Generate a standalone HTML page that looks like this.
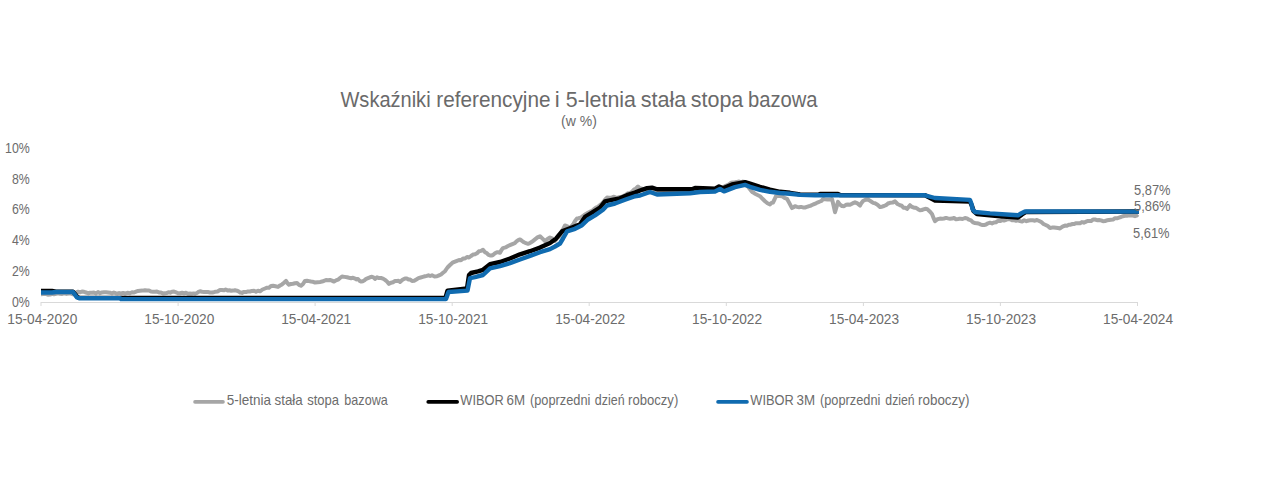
<!DOCTYPE html>
<html><head><meta charset="utf-8">
<style>
html,body{margin:0;padding:0;background:#fff;}
body{width:1280px;height:483px;overflow:hidden;}
svg{display:block;}
text{font-family:"Liberation Sans",sans-serif;fill:#6c6c6c;}
.ax{font-size:13.8px;}
.xl{font-size:15px;}
.ti{font-size:21.6px;fill:#6a6a6a;}
.sub{font-size:14px;}
.lg{font-size:14.6px;}
.el{font-size:14.2px;}
</style></head><body>
<svg width="1280" height="483" viewBox="0 0 1280 483">
<rect width="1280" height="483" fill="#fff"/>
<text x="340.48" y="107" class="ti" textLength="90.12" lengthAdjust="spacingAndGlyphs">Wskaźniki</text><text x="436.32" y="107" class="ti" textLength="114.16" lengthAdjust="spacingAndGlyphs">referencyjne</text><text x="554.82" y="107" class="ti" textLength="4.96" lengthAdjust="spacingAndGlyphs">i</text><text x="565.82" y="107" class="ti" textLength="70.16" lengthAdjust="spacingAndGlyphs">5-letnia</text><text x="640.66" y="107" class="ti" textLength="45.64" lengthAdjust="spacingAndGlyphs">stała</text><text x="690.80" y="107" class="ti" textLength="52.52" lengthAdjust="spacingAndGlyphs">stopa</text><text x="747.98" y="107" class="ti" textLength="69.64" lengthAdjust="spacingAndGlyphs">bazowa</text>
<text x="579" y="126" text-anchor="middle" class="sub">(w %)</text>
<text x="29.8" y="306.9" text-anchor="end" class="ax" textLength="17.8" lengthAdjust="spacingAndGlyphs">0%</text>
<text x="29.8" y="276.1" text-anchor="end" class="ax" textLength="17.8" lengthAdjust="spacingAndGlyphs">2%</text>
<text x="29.8" y="245.2" text-anchor="end" class="ax" textLength="17.8" lengthAdjust="spacingAndGlyphs">4%</text>
<text x="29.8" y="214.4" text-anchor="end" class="ax" textLength="17.8" lengthAdjust="spacingAndGlyphs">6%</text>
<text x="29.8" y="183.5" text-anchor="end" class="ax" textLength="17.8" lengthAdjust="spacingAndGlyphs">8%</text>
<text x="29.8" y="152.7" text-anchor="end" class="ax" textLength="24.8" lengthAdjust="spacingAndGlyphs">10%</text>

<line x1="41" y1="302.5" x2="1137.5" y2="302.5" stroke="#d9d9d9" stroke-width="1"/>
<line x1="41.0" y1="302" x2="41.0" y2="306" stroke="#d9d9d9" stroke-width="1"/>
<line x1="178.1" y1="302" x2="178.1" y2="306" stroke="#d9d9d9" stroke-width="1"/>
<line x1="315.1" y1="302" x2="315.1" y2="306" stroke="#d9d9d9" stroke-width="1"/>
<line x1="452.2" y1="302" x2="452.2" y2="306" stroke="#d9d9d9" stroke-width="1"/>
<line x1="589.2" y1="302" x2="589.2" y2="306" stroke="#d9d9d9" stroke-width="1"/>
<line x1="726.3" y1="302" x2="726.3" y2="306" stroke="#d9d9d9" stroke-width="1"/>
<line x1="863.4" y1="302" x2="863.4" y2="306" stroke="#d9d9d9" stroke-width="1"/>
<line x1="1000.4" y1="302" x2="1000.4" y2="306" stroke="#d9d9d9" stroke-width="1"/>
<line x1="1137.5" y1="302" x2="1137.5" y2="306" stroke="#d9d9d9" stroke-width="1"/>

<text x="42.3" y="323.6" text-anchor="middle" class="xl" textLength="70" lengthAdjust="spacingAndGlyphs">15-04-2020</text>
<text x="179.3" y="323.6" text-anchor="middle" class="xl" textLength="70" lengthAdjust="spacingAndGlyphs">15-10-2020</text>
<text x="316.2" y="323.6" text-anchor="middle" class="xl" textLength="70" lengthAdjust="spacingAndGlyphs">15-04-2021</text>
<text x="453.2" y="323.6" text-anchor="middle" class="xl" textLength="70" lengthAdjust="spacingAndGlyphs">15-10-2021</text>
<text x="590.2" y="323.6" text-anchor="middle" class="xl" textLength="70" lengthAdjust="spacingAndGlyphs">15-04-2022</text>
<text x="727.1" y="323.6" text-anchor="middle" class="xl" textLength="70" lengthAdjust="spacingAndGlyphs">15-10-2022</text>
<text x="864.1" y="323.6" text-anchor="middle" class="xl" textLength="70" lengthAdjust="spacingAndGlyphs">15-04-2023</text>
<text x="1001.1" y="323.6" text-anchor="middle" class="xl" textLength="70" lengthAdjust="spacingAndGlyphs">15-10-2023</text>
<text x="1138.1" y="323.6" text-anchor="middle" class="xl" textLength="70" lengthAdjust="spacingAndGlyphs">15-04-2024</text>

<polyline points="41.0,294.2 43.2,294.1 45.5,293.9 47.8,294.7 50.0,294.6 52.0,293.8 54.0,294.3 56.0,293.9 58.0,293.3 60.0,293.8 62.2,293.9 64.3,293.3 66.5,293.9 68.7,293.5 70.8,293.6 73.0,294.2 75.5,292.8 78.0,291.7 80.0,292.3 82.0,291.5 84.0,291.8 86.0,292.5 88.0,293.2 90.0,292.7 92.0,292.8 94.0,292.6 96.0,293.4 98.0,292.1 100.0,293.2 102.0,292.4 104.0,292.2 106.0,292.2 108.0,292.4 110.0,292.7 111.9,293.3 113.8,292.5 115.6,293.2 117.5,293.4 119.4,293.1 121.2,293.5 123.1,293.0 125.0,293.7 127.5,292.8 130.0,293.2 132.0,292.3 134.0,292.5 136.0,291.6 138.0,290.9 140.0,290.7 142.5,290.6 145.0,290.2 147.0,290.4 149.0,290.5 151.0,291.5 153.0,291.7 155.0,291.7 157.0,291.6 159.0,292.4 161.0,292.6 163.0,293.4 165.0,293.2 166.8,293.1 168.5,292.2 170.2,292.7 172.0,291.7 174.0,291.5 176.0,292.3 178.0,293.2 180.0,293.2 182.0,292.8 184.0,293.3 186.0,292.7 188.0,293.7 190.0,293.5 191.8,293.7 193.5,293.4 195.2,293.7 197.0,293.0 198.5,291.9 200.0,291.3 202.0,291.8 204.0,291.9 206.0,292.1 208.0,292.1 210.0,292.4 212.5,292.6 215.0,291.8 217.5,291.5 220.0,290.0 221.9,290.0 223.8,290.3 225.6,289.5 227.5,290.4 229.4,290.3 231.2,290.8 233.1,290.6 235.0,290.2 236.8,290.6 238.5,291.4 240.2,292.5 242.0,292.9 244.0,291.9 246.0,292.1 248.0,291.4 250.0,291.5 252.0,290.9 254.0,290.8 256.0,291.8 258.0,290.8 260.0,291.3 262.5,289.5 265.0,288.5 267.0,287.7 269.0,287.7 271.0,285.9 273.0,285.8 275.5,286.3 278.0,286.9 280.0,285.5 282.0,284.4 284.0,282.8 286.0,280.9 287.5,283.3 289.0,284.7 291.0,284.0 293.0,283.7 295.0,283.2 297.0,283.0 299.0,284.9 301.0,285.8 303.0,284.0 305.0,280.9 307.0,280.7 309.0,281.1 311.0,281.5 313.0,281.8 315.0,282.5 317.5,282.2 320.0,281.9 322.0,281.6 324.0,280.8 326.0,280.0 328.0,280.2 330.0,279.9 332.0,280.6 334.0,281.6 336.0,280.4 338.0,279.7 340.0,278.0 342.0,276.5 344.5,276.9 347.0,277.3 349.0,277.8 351.0,278.2 353.0,277.7 355.0,278.6 356.5,279.4 358.0,279.0 359.5,280.7 361.0,281.6 362.8,281.2 364.5,280.3 366.2,278.8 368.0,278.1 370.0,277.3 372.0,276.8 373.5,277.3 375.0,278.9 377.0,277.3 379.0,278.1 381.0,278.0 383.0,278.6 385.0,279.9 387.0,281.5 389.0,283.9 391.0,282.7 393.0,282.2 395.0,281.0 397.0,280.9 398.5,280.7 400.0,281.9 402.5,279.7 405.0,278.4 406.8,278.5 408.5,279.5 410.2,279.6 412.0,280.9 414.2,280.7 416.3,279.5 418.5,278.1 420.7,277.5 422.8,276.9 425.0,276.3 426.8,275.9 428.5,275.3 430.2,276.0 432.0,275.3 434.5,276.5 437.0,276.3 439.0,275.4 441.0,274.5 443.0,272.8 445.0,271.2 447.5,267.5 450.0,265.0 452.5,262.7 455.0,261.6 457.0,260.8 459.0,260.0 461.0,260.2 463.0,258.6 465.0,258.5 467.0,257.0 469.0,257.5 471.0,256.0 473.0,254.6 475.0,254.3 477.0,253.2 479.0,251.3 481.0,250.9 483.0,249.7 485.0,252.2 487.0,253.3 488.5,254.9 490.0,255.4 491.5,255.5 493.0,255.0 495.0,253.3 497.0,252.2 498.5,252.3 500.0,252.8 501.5,250.0 503.0,248.1 505.5,247.4 508.0,246.0 510.5,244.9 513.0,243.8 514.8,243.1 516.5,241.3 518.2,240.1 520.0,239.4 522.0,240.9 524.0,242.3 526.0,243.2 528.0,243.8 529.8,243.1 531.5,242.0 533.2,240.8 535.0,239.4 537.5,237.4 540.0,236.2 542.5,238.6 545.0,241.0 547.5,239.0 550.0,237.5 552.5,238.6 555.0,241.0 557.5,237.8 560.0,236.0 562.5,230.4 565.0,225.5 567.5,226.4 570.0,228.0 571.8,225.9 573.5,223.8 575.2,220.7 577.0,218.4 578.8,218.2 580.5,217.5 582.2,216.7 584.0,215.3 586.0,214.0 588.0,212.8 590.0,211.7 592.0,211.0 594.0,209.1 596.0,207.6 598.0,206.7 600.0,205.0 601.8,203.7 603.5,201.8 605.2,199.4 607.0,197.6 609.2,197.7 611.3,197.8 613.5,196.7 615.7,197.4 617.8,197.7 620.0,197.0 622.0,196.6 624.0,195.8 626.0,194.6 628.0,193.3 630.0,193.0 632.0,191.8 634.0,189.5 636.0,188.5 638.0,186.5 639.8,188.2 641.5,188.4 643.2,189.4 645.0,190.5 646.9,191.2 648.8,190.9 650.6,190.2 652.5,190.2 654.4,190.3 656.2,191.4 658.1,191.4 660.0,191.0 662.0,190.5 664.0,191.5 666.0,191.7 668.0,191.2 670.0,190.8 672.0,191.1 674.0,190.5 676.0,190.3 678.0,191.7 680.0,191.2 682.0,191.0 684.0,191.6 686.0,190.9 688.0,191.5 690.0,191.5 692.0,190.6 694.0,190.7 696.0,190.7 698.0,190.6 700.0,191.0 701.9,191.1 703.8,190.5 705.6,190.7 707.5,190.2 709.4,191.3 711.2,190.4 713.1,190.5 715.0,190.5 717.0,189.7 719.0,189.3 721.0,187.7 723.0,187.5 725.0,186.1 727.0,185.2 729.0,184.3 731.0,182.7 733.0,182.5 735.0,182.3 737.0,181.9 739.0,181.6 741.0,182.6 743.0,181.6 745.0,182.0 746.8,184.4 748.5,187.3 750.2,189.5 752.0,191.9 753.5,192.6 755.0,193.8 757.5,195.0 760.0,196.2 762.5,198.8 765.0,201.2 767.5,203.2 770.0,204.4 771.5,202.9 773.0,202.5 774.5,199.5 776.0,196.2 778.0,195.9 780.0,195.9 782.0,196.2 784.5,197.9 787.0,198.8 789.5,203.4 792.0,208.1 793.5,207.3 795.0,206.2 797.0,206.9 799.0,207.3 801.0,206.9 803.0,207.4 805.0,207.5 806.8,206.9 808.5,206.3 810.2,205.9 812.0,205.0 814.0,204.1 816.0,203.3 818.0,202.3 820.0,201.5 821.5,200.9 823.0,199.0 825.2,199.3 827.5,199.5 829.8,199.6 832.0,199.0 833.5,205.3 835.0,212.2 836.5,207.1 838.0,201.9 840.0,204.6 842.0,206.0 844.0,206.2 846.0,204.8 848.0,204.5 850.0,204.7 852.5,203.4 855.0,202.3 857.5,203.4 860.0,205.6 861.5,202.9 863.0,201.0 865.5,199.7 868.0,199.5 869.8,200.7 871.5,201.8 873.2,202.9 875.0,203.3 877.5,204.7 880.0,207.0 882.0,206.7 884.0,206.0 886.0,205.2 888.0,203.5 890.0,202.8 892.5,202.6 895.0,201.4 897.5,204.0 900.0,205.2 901.8,205.7 903.5,207.7 905.2,207.8 907.0,208.9 908.5,207.0 910.0,205.2 912.0,206.9 914.0,207.7 916.0,207.8 918.0,209.2 920.0,210.3 921.8,210.0 923.5,209.4 925.2,208.8 927.0,208.9 929.5,211.2 932.0,214.0 933.5,217.9 935.0,221.1 937.5,219.2 940.0,218.6 942.0,218.7 944.0,218.5 946.0,217.9 948.0,218.4 950.0,218.8 952.0,218.6 954.0,218.0 956.0,219.3 958.0,219.0 960.0,218.6 962.5,219.0 965.0,218.0 967.0,218.4 969.0,219.7 971.0,220.4 973.0,222.4 975.0,223.0 976.8,223.2 978.5,223.4 980.2,224.3 982.0,224.9 984.0,225.1 986.0,224.5 988.0,223.3 990.0,222.7 992.0,223.4 994.0,222.5 996.0,222.2 998.0,220.9 1000.0,221.1 1002.0,220.1 1004.0,220.6 1006.0,219.9 1008.0,219.0 1010.0,219.2 1012.0,220.2 1014.0,220.2 1016.0,220.8 1018.0,220.1 1020.0,221.1 1022.1,221.5 1024.2,220.2 1026.4,221.2 1028.5,220.5 1030.6,220.2 1032.8,220.3 1034.9,220.7 1037.0,220.0 1039.2,221.0 1041.3,222.1 1043.5,224.0 1045.7,225.0 1047.8,226.1 1050.0,228.0 1052.0,227.6 1054.0,227.5 1056.0,227.8 1058.0,228.1 1060.0,228.4 1062.5,226.7 1065.0,225.6 1066.9,225.7 1068.8,224.7 1070.6,224.7 1072.5,224.0 1074.4,223.9 1076.2,223.2 1078.1,223.2 1080.0,223.3 1081.9,222.1 1083.8,222.7 1085.6,221.9 1087.5,221.0 1089.4,220.9 1091.2,221.1 1093.1,219.4 1095.0,219.5 1097.0,220.2 1099.0,220.0 1101.0,220.4 1103.0,221.2 1105.0,221.0 1107.0,220.3 1109.0,220.0 1111.0,219.7 1113.0,219.6 1115.0,218.2 1117.0,218.3 1119.0,217.6 1121.0,217.0 1123.0,216.2 1125.0,215.8 1127.0,215.7 1129.0,215.3 1131.0,215.5 1133.0,215.5 1135.0,216.2 1136.5,215.7 1138.0,214.5" fill="none" stroke="#a6a6a6" stroke-width="4" stroke-linejoin="round"/>
<polyline points="41,291 52,291 56,291.7 73,291.7 77,296.5 79,297.9 445.5,297.9 447.5,290.6 467,288.4 469,275 471,273 478,271.4 483,269.8 490,264.2 500,262 510,258.5 520,254.3 530,251.2 540,247.6 550,243 556,238.7 562,231.4 570,228.3 580,224.2 585,216.9 590,213.8 600,207.6 605,201.4 612,199.8 620,198.3 627,195.2 635,192.6 640,190.5 647,188.2 652,187.6 657,189.25 692,189.25 695,188 703,188.25 715,188.6 719,186.4 723,188.25 732,184.5 745,182.1 750,183.7 760,186.8 770,189.6 780,191.8 790,192.8 800,194.4 810,194.8 818,194.8 820,194 838,194 840,195 925,195.3 935,200.5 970,201.6 972,206 973.5,211 977,214 1000,216.2 1018,217.6 1022,214.5 1026,212 1139,211.5" fill="none" stroke="#000" stroke-width="4.4" stroke-linejoin="round"/>
<polyline points="41,292.5 52,292.5 56,292 73,292 77,297.5 79,298.2 120,298.2 121,299.1 446,299.1 448.5,292 467.5,290.6 470,278.1 475,277.1 483,275 490,268.3 500,266.2 510,263.1 520,259.5 530,255.9 540,252.2 550,249.1 555,246.5 560,243.5 563,238.5 567,231.4 575,228.8 582,225.2 588,219.5 595,215.4 603,209.7 607,205.5 615,203.5 625,199.8 635,196.2 640,195.5 650,192 657,194.5 690,193.3 700,192 715,191.5 720,189 724,191.4 735,187.1 745,184.9 750,186.8 760,189.9 770,191.8 780,193 790,193.7 800,194.9 815,195.2 820,195.3 838,195.3 840,195.4 925,195.3 935,198 970,199.9 971.5,204 972.5,209 975,212 990,213.4 1010,214.8 1018,215.3 1021,213.5 1025,211.5 1080,211.5 1139,211.6" fill="none" stroke="#106bb0" stroke-width="4.4" stroke-linejoin="round"/>
<text x="1134" y="195" class="el" textLength="36.5" lengthAdjust="spacingAndGlyphs">5,87%</text>
<text x="1134" y="211" class="el" textLength="36.5" lengthAdjust="spacingAndGlyphs">5,86%</text>
<text x="1133" y="238" class="el" textLength="36.5" lengthAdjust="spacingAndGlyphs">5,61%</text>
<line x1="195" y1="401.9" x2="223" y2="401.9" stroke="#a6a6a6" stroke-width="3.6" stroke-linecap="round"/>
<line x1="428.2" y1="401.9" x2="457.2" y2="401.9" stroke="#000" stroke-width="3.6" stroke-linecap="round"/>
<line x1="718" y1="401.9" x2="747" y2="401.9" stroke="#106bb0" stroke-width="3.6" stroke-linecap="round"/>
<text x="226.86" y="404.9" class="lg" textLength="44.24" lengthAdjust="spacingAndGlyphs">5-letnia</text><text x="274.52" y="404.9" class="lg" textLength="28.24" lengthAdjust="spacingAndGlyphs">stała</text><text x="307.16" y="404.9" class="lg" textLength="31.92" lengthAdjust="spacingAndGlyphs">stopa</text><text x="344.36" y="404.9" class="lg" textLength="43.40" lengthAdjust="spacingAndGlyphs">bazowa</text><text x="460.34" y="404.9" class="lg" textLength="43.44" lengthAdjust="spacingAndGlyphs">WIBOR</text><text x="506.52" y="404.9" class="lg" textLength="18.56" lengthAdjust="spacingAndGlyphs">6M</text><text x="530.00" y="404.9" class="lg" textLength="60.42" lengthAdjust="spacingAndGlyphs">(poprzedni</text><text x="594.86" y="404.9" class="lg" textLength="29.72" lengthAdjust="spacingAndGlyphs">dzień</text><text x="628.02" y="404.9" class="lg" textLength="50.24" lengthAdjust="spacingAndGlyphs">roboczy)</text><text x="750.34" y="404.9" class="lg" textLength="43.44" lengthAdjust="spacingAndGlyphs">WIBOR</text><text x="796.52" y="404.9" class="lg" textLength="18.56" lengthAdjust="spacingAndGlyphs">3M</text><text x="820.00" y="404.9" class="lg" textLength="60.42" lengthAdjust="spacingAndGlyphs">(poprzedni</text><text x="885.36" y="404.9" class="lg" textLength="29.22" lengthAdjust="spacingAndGlyphs">dzień</text><text x="918.02" y="404.9" class="lg" textLength="51.42" lengthAdjust="spacingAndGlyphs">roboczy)</text>
</svg>
</body></html>
